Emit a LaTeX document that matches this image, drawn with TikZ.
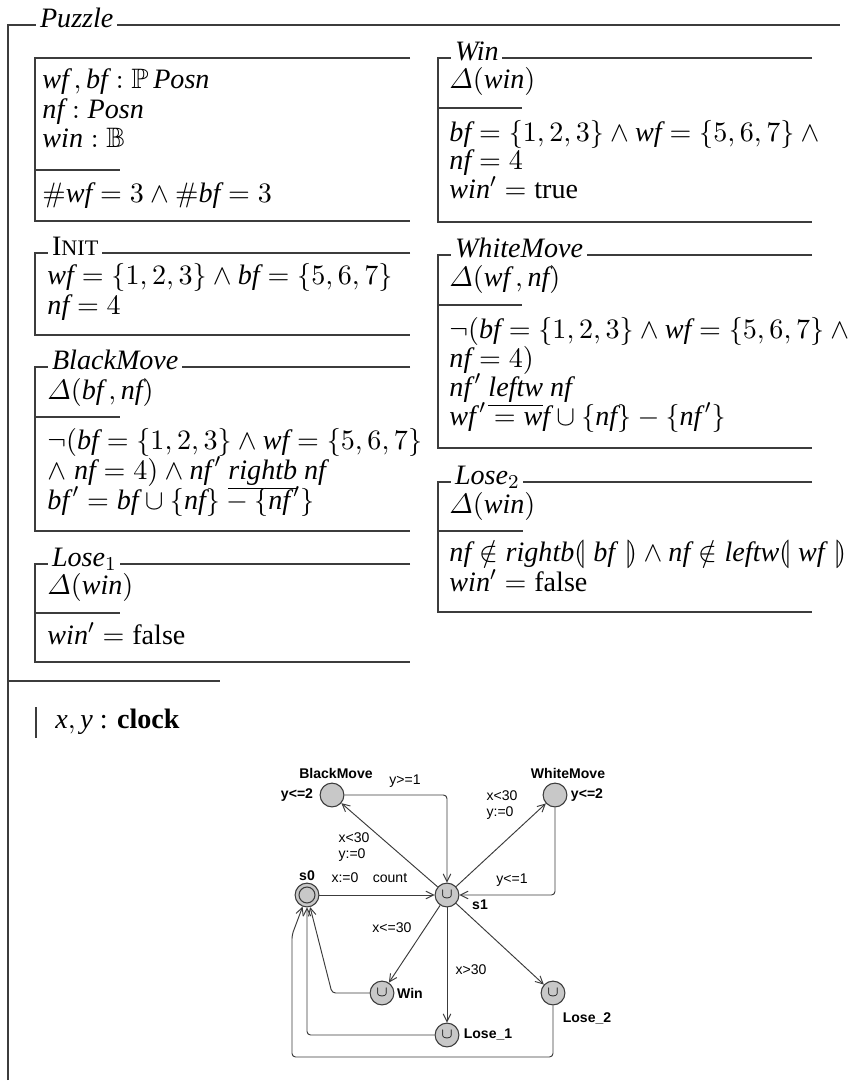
\RequirePackage{fix-cm}
\documentclass[tikz,border=0pt]{standalone}
\usepackage{amssymb,stmaryrd}
\usepackage{fontspec}
\setmainfont{Liberation Serif}
\newfontfamily\uppfont{Liberation Sans}
\usetikzlibrary{arrows.meta,positioning}
\definecolor{zgray}{RGB}{60,60,60}
\definecolor{locfill}{RGB}{200,200,200}
\newcommand{\zv}[1]{\textit{#1}}
\newcommand{\zp}[1]{\textit{#1\/}'}
\newcommand{\zD}{\mathnormal{\Delta}}
\newcommand{\zhash}{\mbox{\fontencoding{OT1}\fontfamily{cmr}\selectfont\#}}
\newcommand{\zfont}{\fontsize{11.8}{14}\selectfont}
\newcommand{\ufont}{\uppfont\fontsize{5.9}{6.8}\selectfont}
\newcommand{\urg}{{\fontsize{6}{6}\selectfont$\cup$}}

\begin{document}
\begin{tikzpicture}[
  x=0.42pt, y=-0.42pt,
  zline/.style={draw=zgray, line width=0.6pt},
  ztitle/.style={anchor=base west, fill=white, inner xsep=1.5pt, inner ysep=1pt, font=\zfont},
  zrow/.style={anchor=base west, inner sep=0pt, font=\zfont},
  loc/.style={circle, draw=zgray, fill=locfill, line width=0.45pt,
              minimum size=10pt, inner sep=0pt},
  lname/.style={font=\ufont\bfseries, inner sep=0pt},
  glbl/.style={font=\ufont, inner sep=0pt, align=left},
  arr/.style={-{Straight Barb[length=3.2pt,width=3.2pt]}, draw=zgray,
              line width=0.4pt, rounded corners=1.5pt}
]
\useasboundingbox (0,0) rectangle (853,1083);

% Outer schema
\draw[zline] (8,1080) -- (8,25) -- (840,25);
\node[ztitle] (puzzle) at (36,27) {\textit{Puzzle}};
\draw[zline] (8,681) -- (220,681);
\draw[zline] (36,707) -- (36,738);
\node[zrow] (clock) at (55,728) {$\zv{x}, \zv{y}$ : \textbf{clock}};

% State schema
\draw[zline] (410,58) -- (35,58) -- (35,221) -- (410,221);
\draw[zline] (35,170) -- (120,170);
\node[zrow] (st1) at (42,88)  {$\zv{wf}\,, \zv{bf} : \mathbb{P}\,\zv{Posn}$};
\node[zrow] (st2) at (42,118) {$\zv{nf} : \zv{Posn}$};
\node[zrow] (st3) at (42,147) {$\zv{win} : \mathbb{B}$};
\node[zrow] (st4) at (42,202) {$\zhash\zv{wf} = 3 \land \zhash\zv{bf} = 3$};

% Init
\draw[zline] (410,253) -- (35,253) -- (35,335) -- (410,335);
\node[ztitle] (init) at (48,255) {I{\fontsize{9.3}{10}\selectfont NIT}};
\node[zrow] (in1) at (47,284) {$\zv{wf} = \{1, 2, 3\} \land \zv{bf} = \{5, 6, 7\}$};
\node[zrow] (in2) at (47,314) {$\zv{nf} = 4$};

% BlackMove
\draw[zline] (410,367) -- (35,367) -- (35,531) -- (410,531);
\draw[zline] (35,417) -- (120,417);
\node[ztitle] (black) at (48,369) {\textit{BlackMove}};
\node[zrow] (bm1) at (47,399) {$\zD(\zv{bf}\,, \zv{nf})$};
\node[zrow] (bm2) at (47,449) {$\lnot(\zv{bf} = \{1, 2, 3\} \land \zv{wf} = \{5, 6, 7\}$};
\node[zrow] (bm3) at (47,479) {$\land\; \zv{nf} = 4) \land \zp{nf}\ \underline{\zv{rightb}}\ \zv{nf}$};
\node[zrow] (bm4) at (47,509) {$\zp{bf} = \zv{bf} \cup \{\zv{nf}\} - \{\zp{nf}\}$};

% Lose_1
\draw[zline] (410,564) -- (35,564) -- (35,662) -- (410,662);
\draw[zline] (35,613) -- (120,613);
\node[ztitle] (loseone) at (48,566) {\textit{Lose}$_1$};
\node[zrow] (la1) at (47,594) {$\zD(\zv{win})$};
\node[zrow] (la2) at (47,644) {$\zp{win} = \textrm{false}$};

% Win
\draw[zline] (812,58) -- (438,58) -- (438,222) -- (812,222);
\draw[zline] (438,108) -- (522,108);
\node[ztitle] (wintitle) at (451,60) {\textit{Win}};
\node[zrow] (wi1) at (449,88)  {$\zD(\zv{win})$};
\node[zrow] (wi2) at (449,141) {$\zv{bf} = \{1, 2, 3\} \land \zv{wf} = \{5, 6, 7\} \land {}$};
\node[zrow] (wi3) at (449,169) {$\zv{nf} = 4$};
\node[zrow] (wi4) at (449,198) {$\zp{win} = \textrm{true}$};

% WhiteMove
\draw[zline] (812,255) -- (438,255) -- (438,448) -- (812,448);
\draw[zline] (438,305) -- (522,305);
\node[ztitle] (white) at (451,257) {\textit{WhiteMove}};
\node[zrow] (wm1) at (449,286) {$\zD(\zv{wf}\,, \zv{nf})$};
\node[zrow] (wm2) at (449,338) {$\lnot(\zv{bf} = \{1, 2, 3\} \land \zv{wf} = \{5, 6, 7\} \land {}$};
\node[zrow] (wm3) at (449,367) {$\zv{nf} = 4)$};
\node[zrow] (wm4) at (449,396) {$\zp{nf}\ \underline{\zv{leftw}}\ \zv{nf}$};
\node[zrow] (wm5) at (449,425) {$\zp{wf} = \zv{wf} \cup \{\zv{nf}\} - \{\zp{nf}\}$};

% Lose_2
\draw[zline] (812,482) -- (438,482) -- (438,612) -- (812,612);
\draw[zline] (438,531) -- (523,531);
\node[ztitle] (losetwo) at (451,484) {\textit{Lose}$_2$};
\node[zrow] (lb1) at (449,513) {$\zD(\zv{win})$};
\node[zrow] (lb2) at (449,561) {$\zv{nf} \notin \zv{rightb}\llparenthesis\; \zv{bf\/}\; \rrparenthesis \land \zv{nf} \notin \zv{leftw}\llparenthesis\; \zv{wf\/}\; \rrparenthesis$};
\node[zrow] (lb3) at (449,591) {$\zp{win} = \textrm{false}$};

% Locations
\node[loc] (s0) at (307,895) {};
\node[loc, minimum size=6.7pt] (s0in) at (s0) {};
\node[loc] (s1) at (447,895) {\urg};
\node[loc] (bm) at (332,795) {};
\node[loc] (wm) at (555,795) {};
\node[loc] (win) at (382,993) {\urg};
\node[loc] (l1) at (447,1035) {\urg};
\node[loc] (l2) at (553,993) {\urg};

% Location names and invariants
\node[lname] (s0name)  at (307,876)  {s0};
\node[lname] (s1name)  at (480,905)  {s1};
\node[lname] (bmname)  at (336,773)  {BlackMove};
\node[lname] (bminv)   at (297,795)  {y<=2};
\node[lname] (wmname)  at (568,773)  {WhiteMove};
\node[lname] (wminv)   at (587,795)  {y<=2};
\node[lname] (winname) at (410,993)  {Win};
\node[lname] (l1name)  at (488,1035) {Lose\_1};
\node[lname] (l2name)  at (587,1018) {Lose\_2};

% Edge labels
\node[glbl] (g1) at (405,781) {y>=1};
\node[glbl] (g2) at (354,847) {x<30\\y:=0};
\node[glbl] (g3) at (345,878) {x:=0};
\node[glbl] (g4) at (390,878) {count};
\node[glbl] (g5) at (502,805) {x<30\\y:=0};
\node[glbl] (g6) at (512,880) {y<=1};
\node[glbl] (g7) at (392,928) {x<=30};
\node[glbl] (g8) at (471,970) {x>30};

% Edges
\coordinate (wc)  at (332,993);
\coordinate (l2a) at (553,1057);
\coordinate (l2b) at (292,1057);
\coordinate (l2c) at (292,935);
\draw[arr] (s0) -- (s1);
\draw[arr] (bm) -| (s1);
\draw[arr] (s1) -- (bm);
\draw[arr] (s1) -- (wm);
\draw[arr] (wm) |- (s1);
\draw[arr] (s1) -- (win);
\draw[arr] (s1) -- (l1);
\draw[arr] (s1) -- (l2);
\draw[arr] (win) -- (wc) -- (s0);
\draw[arr] (l1) -| (s0);
\draw[arr] (l2) -- (l2a) -- (l2b) -- (l2c) -- (s0);
\end{tikzpicture}
\end{document}
